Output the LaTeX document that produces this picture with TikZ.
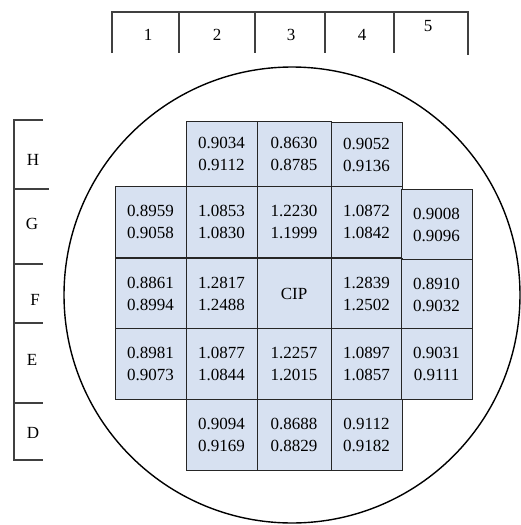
\documentclass[tikz,border=0pt]{standalone}
\usepackage{fontspec}
\setmainfont{Liberation Serif}
\usepackage{tikz}
\definecolor{cellblue}{RGB}{215,225,241}

\begin{document}
\begin{tikzpicture}[x=1pt,y=-1pt,
    ruler/.style={draw=black!75,line width=1.3pt},
    lbl/.style={font=\fontsize{17}{20}\selectfont},
    cell/.style={draw=black!85,fill=cellblue,line width=0.8pt,minimum width=71pt,minimum height=71pt,inner sep=0pt,align=center,font=\fontsize{17}{22}\selectfont}]

    \useasboundingbox (0,0) rectangle (521,525);

    \coordinate (wafer) at (292,295);
    \draw[line width=1.4pt] (wafer) circle[radius=228pt];

    \draw[ruler] (112,53) -- (112,12) -- (468,12) -- (468,55);
    \draw[ruler] (179,12) -- (179,53);
    \draw[ruler] (255,12) -- (255,53);
    \draw[ruler] (325,12) -- (325,53);
    \draw[ruler] (394,12) -- (394,53);
    \node[lbl] (col1) at (148,35) {1};
    \node[lbl] (col2) at (217,35) {2};
    \node[lbl] (col3) at (291,35) {3};
    \node[lbl] (col4) at (362,35) {4};
    \node[lbl] (col5) at (428,26) {5};

    \draw[ruler] (43,120) -- (14,120) -- (14,460) -- (43,460);
    \draw[ruler] (14,189) -- (49,189);
    \draw[ruler] (14,264) -- (43,264);
    \draw[ruler] (14,323) -- (43,323);
    \draw[ruler] (14,403) -- (43,403);
    \node[lbl] (rowH) at (33,160) {H};
    \node[lbl] (rowG) at (32,224) {G};
    \node[lbl] (rowF) at (35,300) {F};
    \node[lbl] (rowE) at (32,360) {E};
    \node[lbl] (rowD) at (33,433) {D};

    \node[cell,minimum height=66pt] (H2) at (221.5,154) {0.9034\\0.9112};
    \node[cell,minimum height=66pt,minimum width=74pt] (H3) at (294,154) {0.8630\\0.8785};
    \node[cell,minimum height=66pt] (H4) at (366.5,155) {0.9052\\0.9136};

    \node[cell] (G1) at (150.5,222) {0.8959\\0.9058};
    \node[cell] (G2) at (221.5,222) {1.0853\\1.0830};
    \node[cell,minimum width=74pt] (G3) at (294,222) {1.2230\\1.1999};
    \node[cell] (G4) at (366.5,222) {1.0872\\1.0842};
    \node[cell] (G5) at (436.5,225) {0.9008\\0.9096};

    \node[cell] (F1) at (150.5,293.5) {0.8861\\0.8994};
    \node[cell] (F2) at (221.5,293.5) {1.2817\\1.2488};
    \node[cell,minimum width=74pt] (F3) at (294,293.5) {CIP};
    \node[cell] (F4) at (366.5,293.5) {1.2839\\1.2502};
    \node[cell] (F5) at (436.5,294.5) {0.8910\\0.9032};

    \node[cell] (E1) at (150.5,364) {0.8981\\0.9073};
    \node[cell] (E2) at (221.5,364) {1.0877\\1.0844};
    \node[cell,minimum width=74pt] (E3) at (294,364) {1.2257\\1.2015};
    \node[cell] (E4) at (366.5,364) {1.0897\\1.0857};
    \node[cell] (E5) at (436.5,364) {0.9031\\0.9111};

    \node[cell] (D2) at (221.5,435) {0.9094\\0.9169};
    \node[cell,minimum width=74pt] (D3) at (294,435) {0.8688\\0.8829};
    \node[cell] (D4) at (366.5,435) {0.9112\\0.9182};
\end{tikzpicture}
\end{document}
